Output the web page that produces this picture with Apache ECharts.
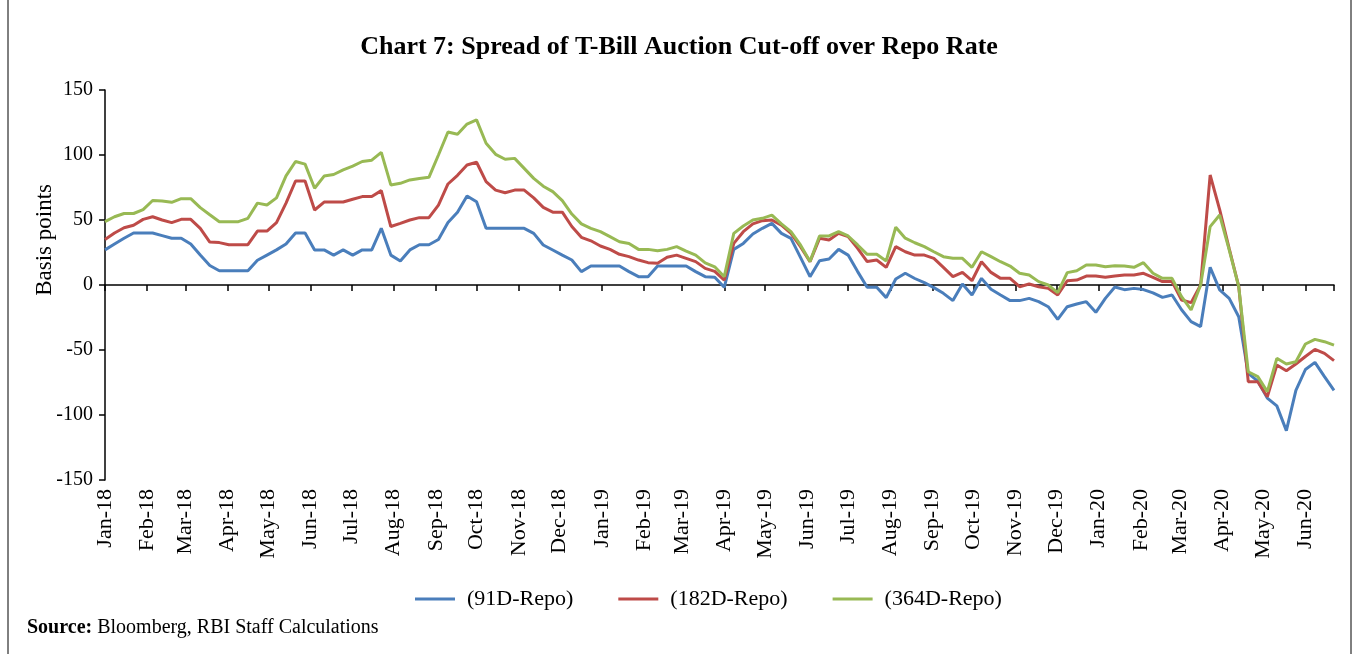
<!DOCTYPE html>
<html>
<head>
<meta charset="utf-8">
<script src="https://cdn.jsdelivr.net/npm/echarts@6/dist/echarts.min.js"></script>
<style>
  html, body { margin: 0; padding: 0; background: #fff; }
  #chart { width: 1358px; height: 654px; }
</style>
</head>
<body>
<div id="chart"></div>
<script>
// weekly auction spreads, bps
var firstWeek = [2018, 0, 1];
var weekCount = 130;
var monthNames = ['Jan', 'Feb', 'Mar', 'Apr', 'May', 'Jun', 'Jul', 'Aug', 'Sep', 'Oct', 'Nov', 'Dec'];
var seriesNames = ['(91D-Repo)', '(182D-Repo)', '(364D-Repo)'];
var seriesColors = ['#4a7ebb', '#be4b48', '#98b954'];

var spread91 = [
  27, 31.5, 36, 40, 40, 40, 38, 36, 36, 31.5,
  23, 15, 11, 11, 11, 11, 19, 23, 27, 31.5,
  40, 40, 27, 27, 23, 27, 23, 27, 27, 43.6,
  23, 18.5, 27, 31, 31, 35, 48, 56, 68.5, 64,
  43.6, 43.6, 43.6, 43.6, 43.6, 39.7, 30.8, 26.9, 23, 19.2,
  10.3, 14.6, 14.6, 14.6, 14.6, 10.3, 6.4, 6.4, 14.6, 14.6,
  14.6, 14.6, 10.3, 6.4, 5.9, -1.8, 27.4, 32, 39.2, 43.6,
  47.4, 39.7, 35.9, 21.3, 6.4, 18.7, 20, 27.4, 23, 10.3,
  -1.8, -1.8, -9.7, 4.6, 9, 5, 1.8, -2, -6.4, -12,
  0.8, -7.7, 5.1, -3.3, -7.7, -12, -12, -10.3, -12.8, -16.7,
  -26.4, -16.7, -14.6, -12.8, -21, -10.3, -1.5, -3.6, -2.6, -3.5,
  -6, -9.5, -7.7, -19, -28.2, -32, 13.6, -3.8, -10.3, -24.4,
  -68, -74, -87, -93, -112, -81, -65, -59.5, -70.5, -81
];
var spread182 = [
  35, 40, 44, 46, 50.5, 52.5, 50, 48, 50.5, 50.5,
  43.6, 33, 32.6, 31, 31, 31, 41.5, 41.5, 48, 63,
  80, 80, 57.7, 63.8, 63.8, 63.8, 66, 68, 68, 72.6,
  45, 47.4, 50, 51.8, 51.8, 61.5, 77.7, 84.4, 92.3, 94.4,
  79.5, 73, 71, 73, 73, 67, 59.7, 56, 56, 45,
  36.7, 34, 30, 27.4, 23.6, 21.8, 19.2, 17.2, 16.7, 21.3,
  23, 20.5, 18, 12.8, 10.5, 3.8, 32, 41, 47, 49.5,
  50, 46, 39.7, 29.5, 18, 35.9, 34.6, 39.7, 37.2, 28.2,
  18, 19.2, 13.6, 29.5, 25.6, 23, 23, 20.5, 13.6, 6.4,
  9.7, 3.3, 17.9, 9.7, 5.1, 5.1, -1.3, 0.8, -1.3, -2.6,
  -7.7, 3.3, 3.8, 6.9, 6.9, 5.9, 7, 7.7, 7.7, 9,
  5.9, 2.6, 2.6, -11.5, -13.6, 0, 84.6, 58, 28, -1,
  -74.4, -74.4, -86, -61.5, -65.9, -60.8, -55, -49.5, -52.6, -58.2
];
var spread364 = [
  48.7, 52.5, 55, 55, 58, 65, 64.6, 63.6, 66.4, 66.4,
  59.5, 54, 48.7, 48.7, 48.7, 51.3, 63, 61.5, 67, 84,
  95, 93, 74.4, 83.8, 85, 88.5, 91.5, 95, 96, 102,
  77, 78.2, 80.8, 82, 82.8, 100, 117.7, 116, 123.8, 127,
  109, 100.5, 96.7, 97.4, 89.7, 82, 76, 71.8, 64.9, 54.6,
  47, 43.6, 41, 37.2, 33.3, 32, 27.4, 27.4, 26.4, 27.4,
  29.5, 26.1, 23, 17, 14, 6.4, 39.7, 45.4, 50, 51.3,
  53.8, 47, 41, 30.8, 18, 37.7, 37.7, 41, 37.7, 30.8,
  23.6, 23.6, 18.5, 44.4, 36, 32.5, 29.5, 25.6, 21.8, 20.5,
  20.5, 13.6, 25.6, 21.8, 17.9, 14.6, 9, 7.7, 2.6, 0,
  -5.9, 9.5, 11, 15.4, 15.4, 14.1, 14.8, 14.6, 13.6, 17.2,
  9, 5.1, 5.1, -9, -19.2, 0, 44.9, 53.8, 27, -1.3,
  -66.7, -70.5, -82, -56.4, -60.8, -59, -45.4, -41.8, -43.6, -46.2
];

var weeks = [];
for (var i = 0; i < weekCount; i++) {
  weeks.push(new Date(firstWeek[0], firstWeek[1], firstWeek[2] + 7 * i).getTime());
}
var DAY = 24 * 3600 * 1000;
var serif = '"Liberation Serif", "DejaVu Serif", serif';

function monthLabel(val) {
  var d = new Date(val);
  return monthNames[d.getMonth()] + '-' + String(d.getFullYear()).slice(2);
}

function pairs(arr) {
  return weeks.map(function (w, i) { return [w, arr[i]]; });
}

var chart = echarts.init(document.getElementById('chart'));
var allSeries = [spread91, spread182, spread364];

var option = {
  animation: false,
  backgroundColor: '#fff',
  title: {
    text: 'Chart 7: Spread of T-Bill Auction Cut-off over Repo Rate',
    left: 'center',
    top: 29,
    textStyle: { fontFamily: serif, fontSize: 26, fontWeight: 'bold', color: '#000' }
  },
  legend: {
    left: 410,
    top: 583,
    icon: 'rect',
    itemWidth: 40,
    itemHeight: 3,
    itemGap: 45,
    textStyle: { fontFamily: serif, fontSize: 22, color: '#000', padding: [0, 0, 0, 7] },
    data: seriesNames
  },
  grid: { left: 105, top: 90, right: 24, bottom: 174, containLabel: false },
  xAxis: [{
    type: 'time',
    min: weeks[0],
    max: weeks[weeks.length - 1],
    splitNumber: 30,
    maxInterval: 30 * DAY,
    axisLine: { onZero: true, lineStyle: { color: '#000', width: 1.5 } },
    axisTick: { show: true, length: 6, lineStyle: { color: '#000', width: 1.5 } },
    axisLabel: { show: false },
    splitLine: { show: false }
  }, {
    type: 'time',
    position: 'bottom',
    min: weeks[0],
    max: weeks[weeks.length - 1],
    splitNumber: 30,
    maxInterval: 30 * DAY,
    axisLine: { show: false, onZero: false },
    axisTick: { show: false },
    axisLabel: {
      rotate: 90,
      margin: 9,
      showMaxLabel: false,
      hideOverlap: false,
      fontFamily: serif,
      fontSize: 22,
      color: '#000',
      formatter: monthLabel
    },
    splitLine: { show: false }
  }],
  yAxis: {
    type: 'value',
    min: -150,
    max: 150,
    interval: 50,
    axisLine: { show: true, onZero: false, lineStyle: { color: '#000', width: 1.5 } },
    axisTick: { show: true, length: 6, lineStyle: { color: '#000', width: 1.5 } },
    axisLabel: { fontFamily: serif, fontSize: 20, color: '#000', margin: 12 },
    splitLine: { show: false }
  },
  graphic: [{
    type: 'text',
    left: 33,
    top: 184,
    rotation: Math.PI / 2,
    style: { text: 'Basis points', font: '23px ' + serif, fill: '#000' }
  }, {
    type: 'text',
    left: 27,
    top: 618,
    style: {
      text: '{b|Source:} Bloomberg, RBI Staff Calculations',
      font: '20px ' + serif,
      fill: '#000',
      rich: { b: { fontWeight: 'bold', fontFamily: serif, fontSize: 20 } }
    }
  }, {
    type: 'rect',
    shape: { x: 8, y: -10, width: 1343, height: 680 },
    style: { fill: 'none', stroke: '#000', lineWidth: 1 },
    silent: true
  }],
  series: allSeries.map(function (arr, k) {
    return {
      name: seriesNames[k],
      type: 'line',
      xAxisIndex: 0,
      data: pairs(arr),
      showSymbol: false,
      color: seriesColors[k],
      lineStyle: { width: 3, color: seriesColors[k] },
      z: 2 + k
    };
  })
};
chart.setOption(option);
</script>
</body>
</html>
